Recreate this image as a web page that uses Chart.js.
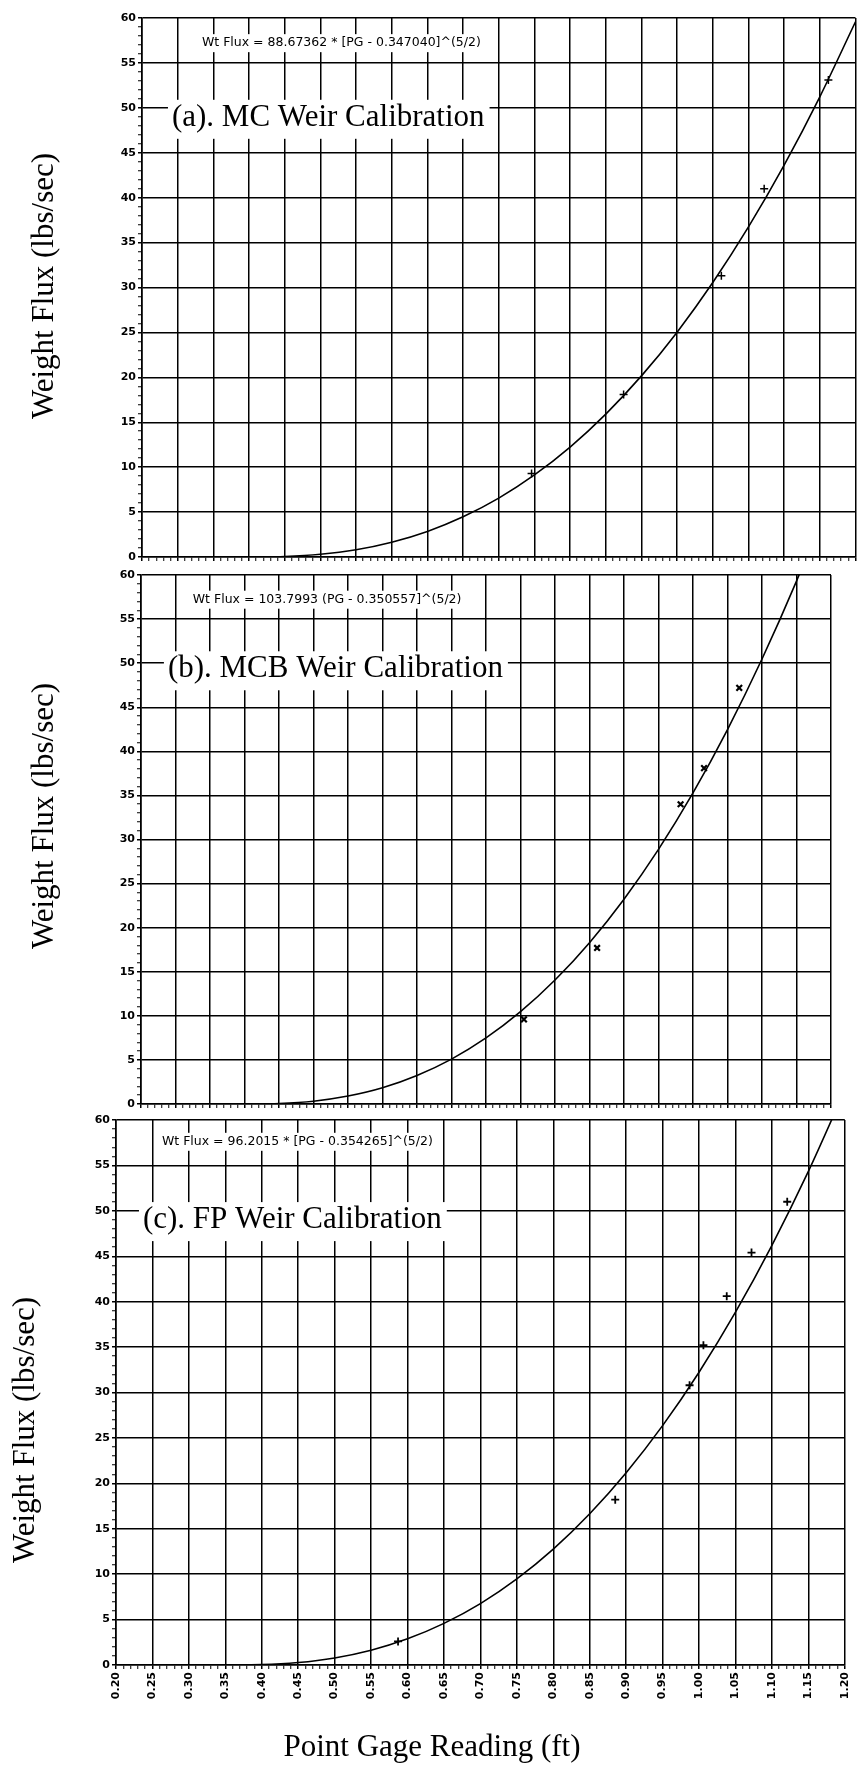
<!DOCTYPE html>
<html>
<head>
<meta charset="utf-8">
<title>Weir Calibration</title>
<script src="https://cdn.jsdelivr.net/npm/chart.js@4.4.0/dist/chart.umd.min.js"></script>
<style>
  html, body { margin: 0; padding: 0; background: #fff; }
  #page { position: relative; width: 861px; height: 1777px; background: #fff; overflow: hidden; }
  #page canvas { position: absolute; left: 0; }
</style>
</head>
<body>
<div id="page">
  <canvas id="panelA" width="861" height="566"></canvas>
  <canvas id="panelB" width="861" height="555"></canvas>
  <canvas id="panelC" width="861" height="671"></canvas>
</div>
<script>
// Point gage readings (ft) at which the fitted curves are drawn
const fitGage = [0.35, 0.40, 0.45, 0.50, 0.55, 0.60, 0.65, 0.70, 0.75, 0.80,
                 0.85, 0.90, 0.95, 1.00, 1.05, 1.10, 1.15, 1.20];

// Wt Flux = A * (PG - c)^(5/2), evaluated at fitGage (lbs/sec)
const fitMC  = [0, 0.06, 0.30, 0.81, 1.65, 2.85, 4.48, 6.56, 9.14, 12.24,
                15.91, 20.16, 25.03, 30.55, 36.74, 43.62, 51.23, 59.58];
const fitMCB = [0, 0.06, 0.32, 0.90, 1.84, 3.23, 5.09, 7.49, 10.47, 14.06,
                18.30, 23.23, 28.88, 35.28, 42.47, 50.47, 59.31, 69.03];
const fitFP  = [0, 0.04, 0.27, 0.78, 1.63, 2.88, 4.58, 6.76, 9.48, 12.76,
                16.65, 21.17, 26.35, 32.23, 38.84, 46.20, 54.34, 63.28];

// Measured calibration points
const mcGage  = [0.746, 0.875, 1.012, 1.072, 1.162];
const mcFlux  = [9.3, 18.1, 31.3, 41.0, 53.1];
const mcbGage = [0.755, 0.861, 0.982, 1.016, 1.067];
const mcbFlux = [9.6, 17.7, 34.0, 38.1, 47.2];
const fpGage  = [0.587, 0.885, 0.987, 1.006, 1.038, 1.072, 1.121];
const fpFlux  = [2.6, 18.2, 30.8, 35.2, 40.6, 45.4, 51.0];

// Axis tick labels
const yTickLabels = ['0', '5', '10', '15', '20', '25', '30', '35', '40', '45', '50', '55', '60'];
const xTickLabels = ['0.20', '0.25', '0.30', '0.35', '0.40', '0.45', '0.50', '0.55', '0.60', '0.65', '0.70',
                     '0.75', '0.80', '0.85', '0.90', '0.95', '1.00', '1.05', '1.10', '1.15', '1.20'];

// Panel captions and fit equations
const panelTitles = ['(a). MC Weir Calibration', '(b). MCB Weir Calibration', '(c). FP Weir Calibration'];
const equations = [
  'Wt Flux = 88.67362 * [PG - 0.347040]^(5/2)',
  'Wt Flux = 103.7993 (PG - 0.350557]^(5/2)',
  'Wt Flux = 96.2015 * [PG - 0.354265]^(5/2)'
];
const yAxisTitle = 'Weight Flux (lbs/sec)';
const xAxisTitle = 'Point Gage Reading (ft)';

const SERIF = '"Liberation Serif", "Times New Roman", serif';
const SANS = '"DejaVu Sans", "Liberation Sans", sans-serif';

const pts = (xs, ys) => xs.map((v, i) => ({ x: v, y: ys[i] }));
const isMajorY = v => Math.round(v) % 5 === 0;
const isMajorX = v => Math.round(v * 100) % 5 === 0;

// Captions, equation boxes and axis titles
const panelText = {
  id: 'panelText',
  beforeDatasetsDraw(chart, args, o) {
    const { ctx, scales: { x, y } } = chart;
    ctx.save();
    // equation
    ctx.font = o.eqFont;
    const ex = x.getPixelForValue(o.eqAt[0]);
    const ey = y.getPixelForValue(o.eqAt[1]);
    const ew = ctx.measureText(o.equation).width;
    ctx.fillStyle = '#fff';
    ctx.fillRect(ex - 7, ey - 9, ew + 14, 18);
    ctx.fillStyle = '#000';
    ctx.textAlign = 'left';
    ctx.textBaseline = 'middle';
    ctx.fillText(o.equation, ex, ey);
    // caption
    ctx.font = o.titleFont;
    const tx = x.getPixelForValue(o.titleAt[0]);
    const ty = y.getPixelForValue(o.titleAt[1]);
    const tw = ctx.measureText(o.title).width;
    ctx.fillStyle = '#fff';
    ctx.fillRect(tx - 4, ty - 26, tw + 9, 39);
    ctx.fillStyle = '#000';
    ctx.textBaseline = 'alphabetic';
    ctx.fillText(o.title, tx, ty);
    ctx.restore();
  },
  afterDraw(chart, args, o) {
    const { ctx } = chart;
    ctx.save();
    ctx.fillStyle = '#000';
    ctx.font = o.axisFont;
    ctx.textAlign = 'center';
    ctx.textBaseline = 'middle';
    ctx.translate(o.yTitlePos[0], o.yTitlePos[1] - o.canvasTop);
    ctx.rotate(-Math.PI / 2);
    ctx.fillText(yAxisTitle, 0, 0);
    ctx.restore();
    if (o.xTitlePos) {
      ctx.save();
      ctx.fillStyle = '#000';
      ctx.font = o.axisFont;
      ctx.textAlign = 'center';
      ctx.textBaseline = 'middle';
      ctx.fillText(xAxisTitle, o.xTitlePos[0], o.xTitlePos[1] - o.canvasTop);
      ctx.restore();
    }
  }
};

function makePanel(id, g, fit, gage, flux, marker, idx) {
  const cv = document.getElementById(id);
  cv.style.top = g.canvasTop + 'px';
  const H = cv.height;
  const showX = !!g.xLabels;
  return new Chart(cv, {
    type: 'line',
    data: {
      datasets: [
        {
          data: pts(fitGage, fit),
          borderColor: '#000',
          borderWidth: 1.6,
          pointRadius: 0,
          cubicInterpolationMode: 'monotone',
          fill: false
        },
        {
          data: pts(gage, flux),
          showLine: false,
          pointStyle: marker.style,
          pointRadius: marker.r,
          borderColor: '#000',
          backgroundColor: '#000',
          pointBorderWidth: marker.w
        }
      ]
    },
    options: {
      responsive: false,
      animation: false,
      devicePixelRatio: 1,
      events: [],
      layout: {
        padding: {
          left: 0,
          right: 861 - g.right,
          top: g.top - g.canvasTop,
          bottom: H - (g.bottom - g.canvasTop) - g.xh
        }
      },
      plugins: {
        legend: { display: false },
        tooltip: { enabled: false },
        panelText: {
          canvasTop: g.canvasTop,
          equation: equations[idx],
          eqAt: g.eqAt,
          eqFont: '12.5px ' + SANS,
          title: panelTitles[idx],
          titleAt: g.titleAt,
          titleFont: '31px ' + SERIF,
          axisFont: '31px ' + SERIF,
          yTitlePos: g.yTitlePos,
          xTitlePos: g.xTitlePos
        }
      },
      scales: {
        x: {
          type: 'linear',
          min: 0.2,
          max: 1.2,
          afterFit(s) { s.height = g.xh; },
          ticks: {
            display: showX,
            stepSize: 0.01,
            autoSkip: false,
            minRotation: 90,
            maxRotation: 90,
            padding: 3,
            color: '#000',
            font: { family: SANS, size: 11, weight: 'bold' },
            callback(v) {
              const k = Math.round(v * 100) - 20;
              return k % 5 === 0 ? xTickLabels[k / 5] : '';
            }
          },
          grid: {
            color: c => (c.tick && isMajorX(c.tick.value)) ? '#000' : 'rgba(0,0,0,0)',
            lineWidth: 1.5,
            tickLength: 4,
            tickColor: '#000',
            tickWidth: c => (c.tick && isMajorX(c.tick.value)) ? 1.5 : 1
          },
          border: { display: true, color: '#000', width: 1.6 }
        },
        y: {
          type: 'linear',
          min: 0,
          max: 60,
          afterFit(s) { s.width = g.left; },
          ticks: {
            stepSize: 1,
            autoSkip: false,
            padding: 2,
            color: '#000',
            font: { family: SANS, size: 11, weight: 'bold' },
            callback(v) { return isMajorY(v) ? yTickLabels[Math.round(v) / 5] : ''; }
          },
          grid: {
            color: c => (c.tick && isMajorY(c.tick.value)) ? '#000' : 'rgba(0,0,0,0)',
            lineWidth: 1.5,
            tickLength: 4,
            tickColor: '#000',
            tickWidth: c => (c.tick && isMajorY(c.tick.value)) ? 1.5 : 1
          },
          border: { display: true, color: '#000', width: 1.6 }
        }
      }
    },
    plugins: [panelText]
  });
}

makePanel('panelA', {
  canvasTop: 0, left: 142, top: 18, right: 859, bottom: 557, xh: 6,
  eqAt: [0.284, 57.2], titleAt: [0.242, 48.0],
  yTitlePos: [45, 286]
}, fitMC, mcGage, mcFlux, { style: 'cross', r: 4, w: 1.5 }, 0);

makePanel('panelB', {
  canvasTop: 560, left: 141, top: 575, right: 831, bottom: 1104, xh: 6,
  eqAt: [0.275, 57.2], titleAt: [0.239, 48.4],
  yTitlePos: [45, 816]
}, fitMCB, mcbGage, mcbFlux, { style: 'crossRot', r: 4, w: 2.2 }, 1);

makePanel('panelC', {
  canvasTop: 1106, left: 116, top: 1120, right: 851, bottom: 1665, xh: 40,
  eqAt: [0.263, 57.6], titleAt: [0.237, 48.1],
  yTitlePos: [26, 1430], xTitlePos: [432, 1748], xLabels: true
}, fitFP, fpGage, fpFlux, { style: 'cross', r: 4, w: 1.8 }, 2);
</script>
</body>
</html>
